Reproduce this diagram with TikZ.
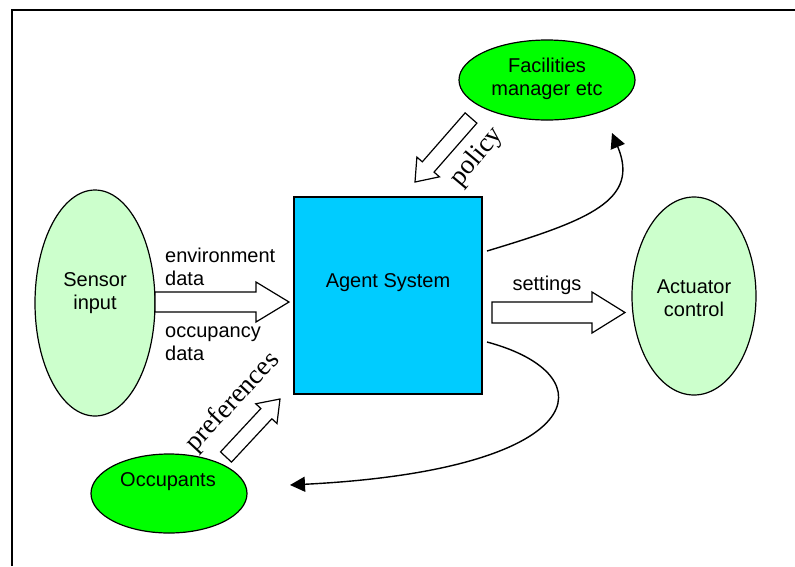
\documentclass[tikz,border=0pt]{standalone}
\usepackage{fontspec}
\setmainfont{Liberation Serif}
\setsansfont{Liberation Sans}
\usetikzlibrary{shapes.geometric,calc,arrows.meta}
\definecolor{cyanbox}{HTML}{00CCFF}
\definecolor{paleg}{HTML}{CCFFCC}
\definecolor{brightg}{HTML}{00FF00}
% from, to, shaft half width, head half width, head length
\newcommand\blockarrow[5]{%
  \coordinate (ba-n) at ($(#2)!#5!(#1)$);
  \draw[barrow] ($(#1)!#3!90:(#2)$) -- ($(ba-n)!#3!90:(#2)$) -- ($(ba-n)!#4!90:(#2)$)
    -- (#2) -- ($(ba-n)!#4!-90:(#2)$) -- ($(ba-n)!#3!-90:(#2)$) -- ($(#1)!#3!-90:(#2)$) -- cycle;
}
\begin{document}
\begin{tikzpicture}[x=1pt,y=-1pt,
  oval/.style={ellipse, draw, line width=1.2pt, inner sep=0pt},
  lbl/.style={font=\sffamily\fontsize{20}{23}\selectfont, align=center, inner sep=0pt},
  serif/.style={font=\rmfamily\fontsize{27}{30}\selectfont, inner sep=0pt},
  barrow/.style={draw, fill=white, line width=1.2pt, line join=miter},
  flow/.style={line width=1.4pt, -{Triangle[length=15pt,width=15pt]}}]
\useasboundingbox (0,0) rectangle (795,566);
\fill[white] (0,0) rectangle (795,566);
\draw[line width=1.5pt] (12,566) -- (12,10) -- (795,10);

\node[oval, fill=brightg, minimum width=176, minimum height=80] (fac) at (547,80) {};
\node[lbl] (factxt) at (547,79) {Facilities\\manager etc};
\node[draw, fill=cyanbox, line width=1.2pt, minimum width=188, minimum height=197, inner sep=0pt] (agent) at (388,295.5) {};
\node[lbl] (agenttxt) at (388,283) {Agent System};
\node[oval, fill=paleg, minimum width=120, minimum height=226] (sensor) at (95,303) {};
\node[lbl] (sensortxt) at (95,293.5) {Sensor\\input};
\node[oval, fill=paleg, minimum width=124, minimum height=198] (act) at (694,296) {};
\node[lbl] (acttxt) at (694,298.5) {Actuator\\control};
\node[oval, fill=brightg, minimum width=156, minimum height=79] (occ) at (169,493.5) {};
\node[lbl] (occtxt) at (168,482) {Occupants};

\node[lbl, align=left, anchor=west] (envtxt) at (165,267) {environment\\data};
\node[lbl, align=left, anchor=west] (occdtxt) at (165,344) {occupancy\\data};
\node[lbl] (settxt) at (547,285) {settings};
\node[serif, rotate=50] (poltxt) at (477,157) {policy};
\node[serif, rotate=47] (preftxt) at (233,402) {preferences};

\coordinate (sa1) at (155,302); \coordinate (sa2) at (289,302);
\blockarrow{sa1}{sa2}{10pt}{20pt}{33pt}
\coordinate (st1) at (492,312.5); \coordinate (st2) at (625,312.5);
\blockarrow{st1}{st2}{10.5pt}{20.5pt}{33pt}
\coordinate (pa1) at (471,118); \coordinate (pa2) at (415,182);
\blockarrow{pa1}{pa2}{7.8pt}{15pt}{20pt}
\coordinate (pr1) at (226,457); \coordinate (pr2) at (280,399);
\blockarrow{pr1}{pr2}{7.5pt}{14.5pt}{20pt}

\coordinate (up1) at (487,251); \coordinate (up2) at (612,133);
\draw[flow] (up1) .. controls (590,220) and (640,200) .. (up2);
\coordinate (lo1) at (487,342); \coordinate (lo2) at (290,485);
\draw[flow] (lo1) .. controls (610,375) and (590,470) .. (lo2);
\end{tikzpicture}
\end{document}
